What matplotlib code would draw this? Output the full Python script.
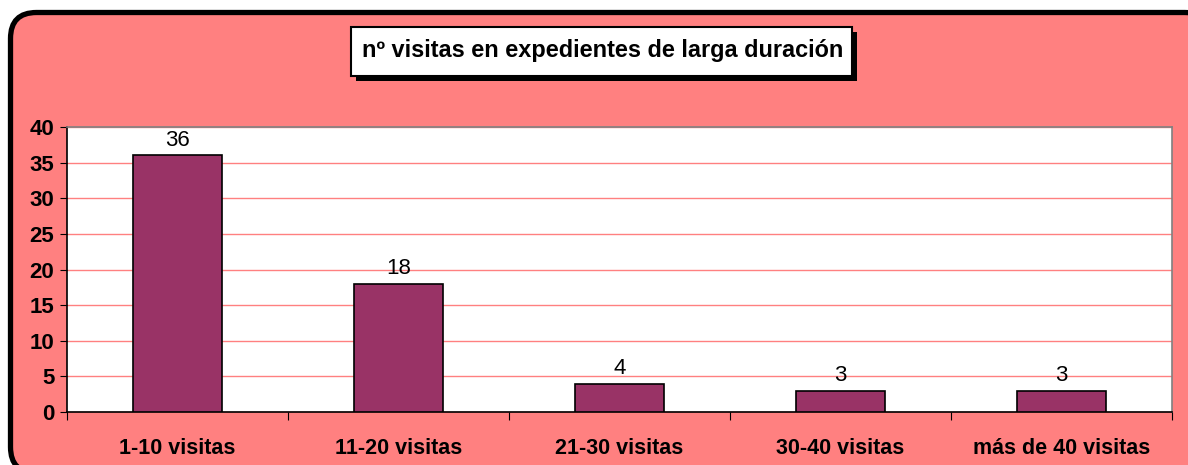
import matplotlib.pyplot as plt
from matplotlib.patches import FancyBboxPatch, Rectangle
import numpy as np

categorias = ["1-10 visitas", "11-20 visitas", "21-30 visitas", "30-40 visitas", "más de 40 visitas"]
valores = [36, 18, 4, 3, 3]
titulo = "nº visitas en expedientes de larga duración"

rosa = "#FF8080"
granate = "#993366"

plt.rcParams['font.family'] = ['Liberation Sans', 'DejaVu Sans']

fig = plt.figure(figsize=(11.88, 4.65), dpi=100)
fig.patch.set_facecolor("white")

# marco redondeado (en pixeles)
marco = FancyBboxPatch((10.5, -8), 1200, 465 - 12.5 + 8,
                       boxstyle="round,pad=0,rounding_size=26",
                       facecolor=rosa, edgecolor="black", linewidth=3.8,
                       transform=None, zorder=-5)
fig.patches.append(marco)

# caja del titulo con sombra
sombra = Rectangle((356, 465 - 81), 501, 49, facecolor="black",
                   edgecolor="none", transform=None, zorder=1)
caja = Rectangle((351, 465 - 76), 501, 49, facecolor="white",
                 edgecolor="black", linewidth=1.5, transform=None, zorder=2)
fig.patches.extend([sombra, caja])
fig.text(603 / 1188, 1 - 51 / 465, titulo, ha="center", va="center",
         fontsize=16.9, fontweight="bold", zorder=3)

ax = fig.add_axes([67 / 1188, 53 / 465, (1172 - 67) / 1188, (412 - 127) / 465])
ax.set_facecolor("white")

x = np.arange(len(categorias))
barras = ax.bar(x, valores, width=0.4, color=granate, edgecolor="black",
                linewidth=1.2, zorder=3)
for xi, v in zip(x, valores):
    ax.text(xi, v + 0.6, str(v), ha="center", va="bottom", fontsize=16)

ax.set_xlim(-0.5, len(categorias) - 0.5)
ax.set_ylim(0, 40)
ax.set_yticks(np.arange(0, 41, 5))
ax.yaxis.grid(True, color=rosa, linewidth=1.0, zorder=0)
ax.set_axisbelow(True)

ax.set_xticks(np.arange(-0.5, len(categorias), 1))
ax.set_xticklabels([])
ax.set_xticks(x, minor=True)
ax.set_xticklabels(categorias, minor=True, fontsize=15.5, fontweight="bold")
ax.tick_params(axis="x", which="minor", length=0, pad=19)
ax.tick_params(axis="x", which="major", length=6, direction="out", color="black")
ax.tick_params(axis="y", length=5, direction="out", color="black", pad=4)
for lbl in ax.get_yticklabels():
    lbl.set_fontweight("bold")
    lbl.set_fontsize(16)

ax.spines["left"].set_color("black")
ax.spines["bottom"].set_color("black")
ax.spines["top"].set_color("#808080")
ax.spines["right"].set_color("#808080")
for s in ax.spines.values():
    s.set_linewidth(1.2)

fig.savefig("out.png", dpi=100)
